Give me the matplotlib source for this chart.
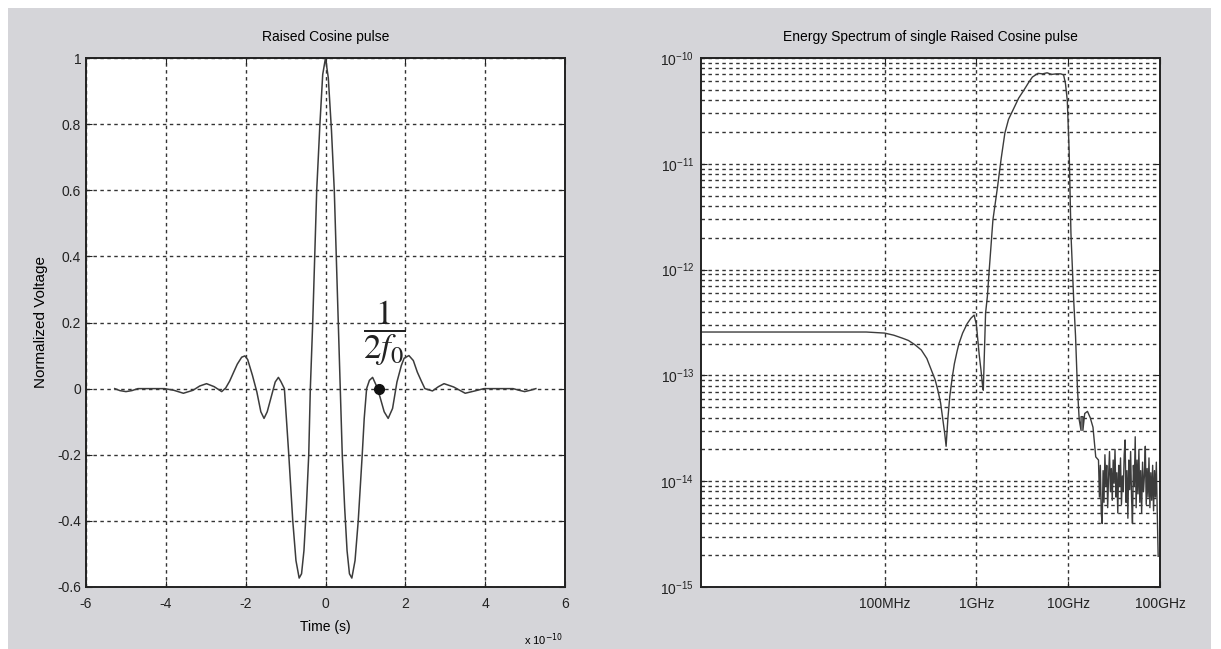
import numpy as np
import matplotlib
matplotlib.use("Agg")
import matplotlib.pyplot as plt
from matplotlib.patches import Rectangle
from matplotlib.ticker import FixedLocator, FuncFormatter, NullFormatter, LogFormatterMathtext

plt.rcParams['font.family'] = ['Liberation Sans']
plt.rcParams['axes.unicode_minus'] = False

#%% data

# raised cosine pulse, time in units of 1e-10 s
t_pulse = [-5.28, -5.15, -5.0, -4.85, -4.70, -4.40, -4.03, -3.80, -3.56, -3.32,
           -3.15, -2.98, -2.79, -2.60, -2.50, -2.40, -2.30, -2.21, -2.10, -2.02,
           -1.95, -1.83, -1.72, -1.62, -1.54, -1.46, -1.36, -1.26, -1.18, -1.12,
           -1.03, -0.98, -0.92, -0.82, -0.74, -0.66, -0.60, -0.54, -0.48, -0.42,
           -0.38, -0.32, -0.27, -0.22, -0.14, -0.07, 0.0, 0.07, 0.15, 0.22,
           0.27, 0.32, 0.37, 0.42, 0.48, 0.54, 0.60, 0.66, 0.74, 0.82,
           0.92, 0.97, 1.03, 1.10, 1.18, 1.27, 1.36, 1.47, 1.57, 1.68,
           1.79, 1.90, 1.97, 2.09, 2.20, 2.30, 2.40, 2.49, 2.68, 2.83,
           2.97, 3.21, 3.50, 3.74, 3.97, 4.30, 4.70, 4.85, 4.99, 5.13, 5.27]
v_pulse = [0.0, -0.006, -0.009, -0.006, 0.0, 0.0, 0.0, -0.005, -0.014, -0.005,
           0.008, 0.015, 0.006, -0.009, 0.002, 0.023, 0.05, 0.074, 0.095, 0.099,
           0.088, 0.04, -0.01, -0.07, -0.09, -0.07, -0.025, 0.02, 0.034, 0.022,
           0.0, -0.09, -0.2, -0.4, -0.52, -0.573, -0.56, -0.49, -0.36, -0.2,
           0.0, 0.2, 0.4, 0.6, 0.8, 0.95, 1.0, 0.94, 0.78, 0.6,
           0.4, 0.2, 0.0, -0.2, -0.36, -0.49, -0.56, -0.573, -0.52, -0.4,
           -0.2, -0.09, 0.0, 0.025, 0.034, 0.01, -0.023, -0.07, -0.09, -0.06,
           0.02, 0.07, 0.092, 0.1, 0.085, 0.05, 0.023, 0.0, -0.007, 0.006,
           0.015, 0.005, -0.014, -0.007, 0.0, 0.0, 0.0, -0.005, -0.009, -0.005, 0.0]

# marker for 1/(2 f0)
t_mark = 1.34
v_mark = 0.0

# energy spectrum, log10 of frequency (Hz) and log10 of energy
spec_logf = [6.0, 7.0, 7.8, 8.0, 8.1, 8.2, 8.26, 8.33, 8.40, 8.46,
             8.51, 8.55, 8.58, 8.61, 8.63, 8.655, 8.67, 8.69, 8.71, 8.735,
             8.76, 8.79, 8.81, 8.85, 8.90, 8.94, 8.975, 9.0, 9.03, 9.05,
             9.065, 9.075, 9.09, 9.10, 9.12, 9.14, 9.18, 9.23, 9.27, 9.31,
             9.35, 9.40, 9.46, 9.52, 9.57, 9.61, 9.67, 9.72, 9.77, 9.82,
             9.87, 9.92, 9.95, 9.97, 9.99, 10.01, 10.03, 10.06, 10.08, 10.10,
             10.12, 10.14, 10.14, 10.16, 10.16, 10.18, 10.21, 10.24, 10.27, 10.30]
spec_logE = [-12.59, -12.59, -12.59, -12.60, -12.62, -12.65, -12.67, -12.71, -12.76, -12.84,
             -12.95, -13.04, -13.14, -13.26, -13.39, -13.55, -13.67, -13.40, -13.20, -13.03,
             -12.89, -12.77, -12.70, -12.60, -12.51, -12.46, -12.43, -12.52, -12.80, -12.95,
             -13.08, -13.14, -12.70, -12.41, -12.25, -12.0, -11.53, -11.22, -10.95, -10.71,
             -10.58, -10.49, -10.38, -10.30, -10.23, -10.18, -10.145, -10.15, -10.14, -10.155,
             -10.15, -10.15, -10.16, -10.24, -10.40, -10.87, -11.66, -12.29, -12.63, -13.11,
             -13.42, -13.52, -13.39, -13.39, -13.52, -13.36, -13.34, -13.40, -13.49, -13.77]

# noisy tail above ~20 GHz
noise_logf = [10.33, 10.34, 10.35, 10.36, 10.37, 10.38, 10.39, 10.40, 10.41, 10.42,
              10.43, 10.44, 10.45, 10.46, 10.47, 10.48, 10.49, 10.50, 10.51, 10.52,
              10.53, 10.54, 10.55, 10.56, 10.57, 10.58, 10.59, 10.60, 10.61, 10.62,
              10.63, 10.64, 10.65, 10.66, 10.67, 10.68, 10.69, 10.70, 10.71, 10.72,
              10.73, 10.74, 10.75, 10.76, 10.77, 10.78, 10.79, 10.80, 10.81, 10.82,
              10.83, 10.84, 10.85, 10.86, 10.87, 10.88, 10.89, 10.90, 10.91, 10.92,
              10.93, 10.94, 10.95, 10.96, 10.97, 10.98]
noise_logE = [-13.80, -14.15, -13.85, -14.30, -14.40, -13.90, -14.20, -13.75, -14.05, -13.85,
              -14.25, -13.95, -13.72, -14.10, -13.88, -14.18, -13.80, -14.02, -13.70, -14.15,
              -13.92, -14.30, -13.85, -14.05, -13.78, -14.22, -13.95, -14.10, -13.75, -13.61,
              -14.20, -13.90, -14.35, -13.80, -14.08, -13.72, -14.15, -14.40, -13.85, -14.05,
              -13.58, -14.25, -13.80, -14.12, -13.70, -14.20, -13.90, -14.30, -13.82, -14.10,
              -13.95, -13.67, -14.22, -13.88, -14.15, -13.78, -14.25, -13.92, -14.18, -13.85,
              -14.28, -13.90, -14.15, -13.82, -14.30, -14.71]

freq_ticks = [1e8, 1e9, 1e10, 1e11]
freq_labels = ['100MHz', '1GHz', '10GHz', '100GHz']
energy_ticks = [1e-15, 1e-14, 1e-13, 1e-12, 1e-11, 1e-10]

#%% figure

fig = plt.figure(figsize=(12.21, 6.49), dpi=100, facecolor='white')
fig.patches.append(Rectangle((8/1221, 0), 1203/1221, 641/649, transform=fig.transFigure,
                             facecolor='#d5d5d9', edgecolor='none', zorder=-10))

grid_kw = dict(color='#333333', linestyle=(0, (2.5, 2.5)), linewidth=1.0)
line_col = '#3c3c3c'

# raised cosine pulse
ax1 = fig.add_axes([86/1221, 62/649, 479/1221, 529/649])
ax1.plot(np.array(t_pulse) * 1e-10, v_pulse, color=line_col, lw=1.1)
ax1.plot(t_mark * 1e-10, v_mark, 'o', color='#111111', ms=7)
ax1.text(1.48e-10, 0.168, r'$\dfrac{1}{2f_0}$', fontsize=25, ha='center', va='center',
         math_fontfamily='stix', color='#222222')
ax1.set_xlim(-6e-10, 6e-10)
ax1.set_ylim(-0.6, 1.0)
ax1.set_xticks(np.arange(-6, 7, 2) * 1e-10)
ax1.set_yticks(np.arange(-0.6, 1.01, 0.2))
ax1.xaxis.set_major_formatter(FuncFormatter(lambda v, p: '%g' % round(v * 1e10, 6)))
ax1.yaxis.set_major_formatter(FuncFormatter(lambda v, p: '%g' % round(v, 6)))
ax1.grid(True, **grid_kw)
ax1.set_title('Raised Cosine pulse', fontsize=10, pad=12)
ax1.set_xlabel('Time (s)', fontsize=10)
ax1.xaxis.set_label_coords(0.5, -0.062)
ax1.set_ylabel('Normalized Voltage', fontsize=11)
ax1.yaxis.set_label_coords(-0.079, 0.5)
ax1.text(0.955, -0.1, r'x 10$^{-10}$', transform=ax1.transAxes, fontsize=8,
         ha='center', va='center')

# energy spectrum
ax2 = fig.add_axes([701/1221, 62/649, 459/1221, 529/649])
f_all = 10.0 ** np.array(spec_logf + noise_logf)
E_all = 10.0 ** np.array(spec_logE + noise_logE)
ax2.loglog(f_all, E_all, color=line_col, lw=1.0)
ax2.set_xlim(1e6, 1e11)
ax2.set_ylim(1e-15, 1e-10)
ax2.xaxis.set_major_locator(FixedLocator(freq_ticks))
ax2.set_xticklabels(freq_labels)
ax2.xaxis.set_minor_locator(FixedLocator([]))
ax2.yaxis.set_major_locator(FixedLocator(energy_ticks))
ax2.yaxis.set_major_formatter(LogFormatterMathtext())
minor_y = [m * e for e in energy_ticks[:-1] for m in range(2, 10)]
ax2.yaxis.set_minor_locator(FixedLocator(minor_y))
ax2.yaxis.set_minor_formatter(NullFormatter())
ax2.grid(True, which='major', **grid_kw)
ax2.grid(True, which='minor', axis='y', **grid_kw)
ax2.set_title('Energy Spectrum of single Raised Cosine pulse', fontsize=10, pad=12)

for ax in (ax1, ax2):
    ax.set_facecolor('white')
    for s in ax.spines.values():
        s.set_linewidth(1.4)
        s.set_color('#222222')
    ax.tick_params(direction='in', length=4, top=True, right=True, labelsize=10,
                   colors='#222222')
    ax.tick_params(axis='x', pad=7)
    ax.tick_params(which='minor', length=0)
ax2.tick_params(axis='y', pad=5)

fig.savefig('out.png', dpi=100, facecolor=fig.get_facecolor())
